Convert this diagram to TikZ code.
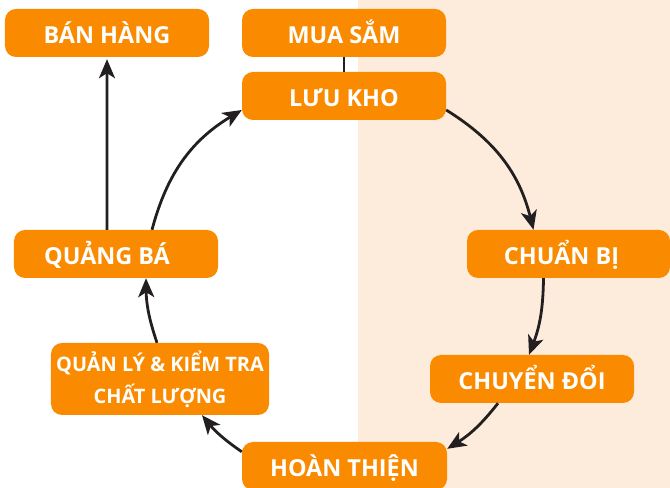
\documentclass[tikz,border=0pt]{standalone}
\usepackage{fontspec}
\newfontfamily\boxfont{Open Sans}
\usetikzlibrary{arrows.meta}
\definecolor{boxor}{RGB}{250,139,0}
\definecolor{bgpeach}{RGB}{253,236,220}
\definecolor{ink}{RGB}{35,31,32}
\begin{document}
\begin{tikzpicture}[x=1bp,y=1bp,
  box/.style={fill=boxor, rounded corners=11bp, minimum width=204bp, minimum height=48bp,
    inner sep=0pt, text=white, font=\boxfont\bfseries\fontsize{23.5}{28}\selectfont,
    text height=21bp, text depth=0pt, align=center},
  arr/.style={draw=ink, line width=2.8bp, -{Stealth[length=19bp,width=16bp,inset=5bp]}},
]
\useasboundingbox (0,0) rectangle (670,488);
\fill[bgpeach] (358,0) rectangle (670,488);
\node[box] (bh) at (107,455) {BÁN HÀNG};
\node[box] (ms) at (344,455) {MUA SẮM};
\node[box] (lk) at (344,392) {LƯU KHO};
\node[box, minimum width=203bp] (cb) at (568.5,234) {\hspace*{-14bp}CHUẨN BỊ};
\node[box] (qb) at (116,234) {\hspace*{-18bp}QUẢNG BÁ};
\node[box] (cd) at (532,109) {CHUYỂN ĐỔI};
\node[box, minimum width=218bp, minimum height=72bp, text height=, text depth=,
  font=\boxfont\bfseries\fontsize{20}{32}\selectfont] (ql) at (160,109) {QUẢN LÝ \& KIỂM TRA\\CHẤT LƯỢNG};
\node[box, minimum width=205bp] (ht) at (344.5,22) {HOÀN THIỆN};

\draw[ink, line width=2.4bp] (ms.south) -- (lk.north);
\draw[arr] ([yshift=-14bp]lk.east) to[bend left=22] ([xshift=-35bp]cb.north);
\draw[arr] ([xshift=-25bp]cb.south) to[bend left=10] ([xshift=-3bp]cd.north);
\draw[arr] ([xshift=-34bp]cd.south) to[bend left=10] ([yshift=-7bp]ht.north east);
\draw[arr] ([yshift=-10bp]ht.north west) to[bend left=8] ([xshift=42bp]ql.south);
\draw[arr] ([xshift=-3bp]ql.north) to[bend left=9] ([xshift=30bp]qb.south);
\draw[arr] ([xshift=36bp]qb.north) to[bend left=22] ([yshift=-14bp]lk.west);
\draw[arr, shorten >=2bp] ([xshift=-9bp]qb.north) -- (bh.south);
\end{tikzpicture}
\end{document}
